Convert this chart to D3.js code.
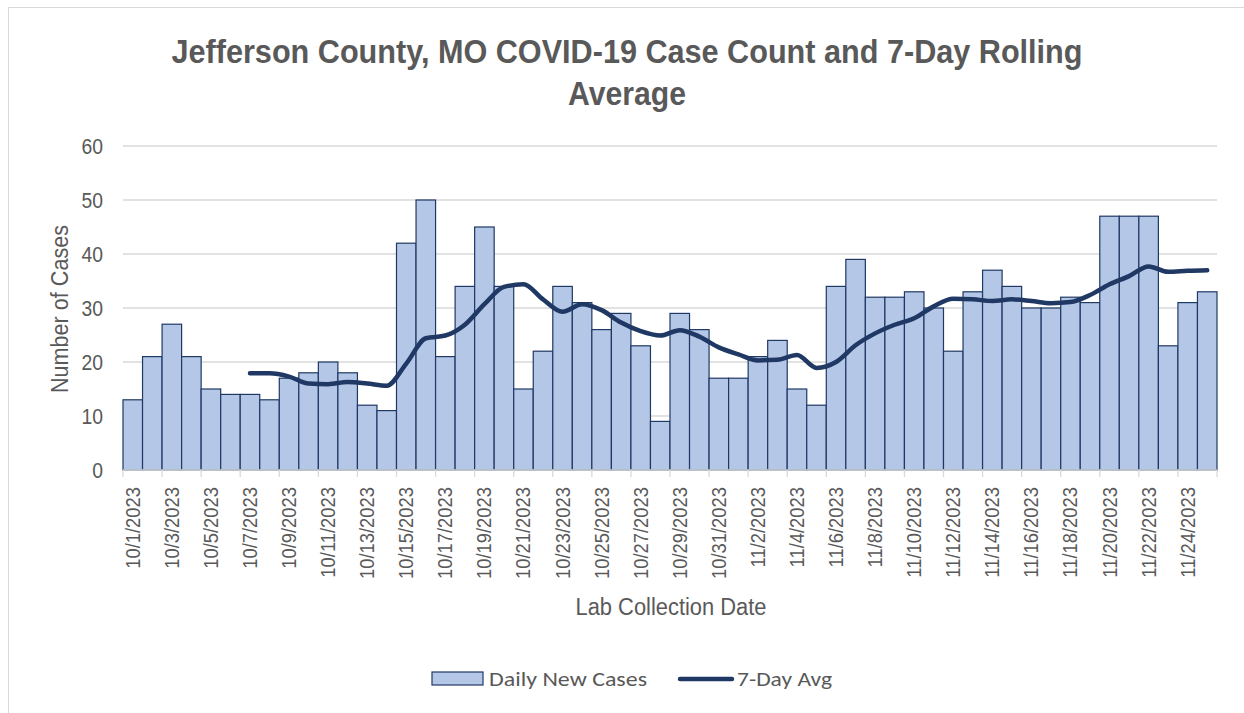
<!DOCTYPE html>
<html lang="en">
<head>
<meta charset="utf-8">
<script src="https://d3js.org/d3.v7.min.js"></script>
<style>
  body { margin: 0; background: #fff; }
  svg text { fill: #595959; font-family: "Liberation Sans", Arial, sans-serif; }
</style>
<title>Jefferson County COVID-19</title>
</head>
<body>
<div id="vis"></div>
<script>
// data
const dates = [
  '10/1/2023','10/2/2023','10/3/2023','10/4/2023','10/5/2023','10/6/2023','10/7/2023',
  '10/8/2023','10/9/2023','10/10/2023','10/11/2023','10/12/2023','10/13/2023','10/14/2023',
  '10/15/2023','10/16/2023','10/17/2023','10/18/2023','10/19/2023','10/20/2023','10/21/2023',
  '10/22/2023','10/23/2023','10/24/2023','10/25/2023','10/26/2023','10/27/2023','10/28/2023',
  '10/29/2023','10/30/2023','10/31/2023','11/1/2023','11/2/2023','11/3/2023','11/4/2023',
  '11/5/2023','11/6/2023','11/7/2023','11/8/2023','11/9/2023','11/10/2023','11/11/2023',
  '11/12/2023','11/13/2023','11/14/2023','11/15/2023','11/16/2023','11/17/2023','11/18/2023',
  '11/19/2023','11/20/2023','11/21/2023','11/22/2023','11/23/2023','11/24/2023','11/25/2023'
];
const dailyCases = [
  13,21,27,21,15,14,14, 13,17,18,20,18,12,11, 42,50,21,34,45,34,15,
  22,34,31,26,29,23,9, 29,26,17,17,21,24,15, 12,34,39,32,32,33,30,
  22,33,37,34,30,30,32, 31,47,47,47,23,31,33
];
// 7-day avg starts on 10/7
const avgValues = [
  null,null,null,null,null,null,17.9,
  17.9,17.3,16.0,15.9,16.3,16.0,15.6, 19.7,24.4,24.9,26.9,30.7,33.9,34.4,
  31.6,29.3,30.7,29.6,27.3,25.7,24.9, 25.9,24.7,22.7,21.4,20.3,20.4,21.3,
  18.9,20.0,23.1,25.3,26.9,28.1,30.3, 31.7,31.6,31.3,31.6,31.3,30.9,31.1,
  32.4,34.4,35.9,37.7,36.7,36.9,37.0
];
const yTicks = [0,10,20,30,40,50,60];

const width = 1244, height = 713;
const margin = { left: 123, right: 25, top: 146, bottom: 243 };

const svg = d3.select('#vis').append('svg')
  .attr('width', width)
  .attr('height', height);

// chart frame (runs off the right and bottom edge)
svg.append('rect')
  .attr('x', 8.5).attr('y', 7.5)
  .attr('width', 1260).attr('height', 740)
  .attr('fill', '#fff')
  .attr('stroke', '#d9d9d9');

const x = d3.scaleBand()
  .domain(dates)
  .range([margin.left, width - margin.right - 2])
  .padding(0);

const y = d3.scaleLinear()
  .domain([0, 60])
  .range([height - margin.bottom, margin.top]);

// gridlines
svg.append('g')
  .selectAll('line')
  .data(yTicks)
  .join('line')
  .attr('x1', x.range()[0])
  .attr('x2', x.range()[1])
  .attr('y1', d => y(d))
  .attr('y2', d => y(d))
  .attr('stroke', '#d9d9d9')
  .attr('stroke-width', 1.3);

// y axis labels (narrow look)
svg.append('g')
  .selectAll('text')
  .data(yTicks)
  .join('text')
  .attr('transform', d => `translate(103,${y(d)}) scale(0.88,1)`)
  .attr('dy', '0.36em')
  .attr('text-anchor', 'end')
  .style('font-size', '22px')
  .text(d => d);

// bars
svg.append('g')
  .selectAll('rect')
  .data(dailyCases)
  .join('rect')
  .attr('x', (d, i) => x(dates[i]))
  .attr('y', d => y(d))
  .attr('width', x.bandwidth())
  .attr('height', d => y(0) - y(d))
  .attr('fill', '#b4c7e7')
  .attr('stroke', '#1f3864')
  .attr('stroke-width', 1.2);

// x axis line and ticks every 2 days
svg.append('line')
  .attr('x1', x.range()[0]).attr('x2', x.range()[1])
  .attr('y1', y(0)).attr('y2', y(0))
  .attr('stroke', '#d9d9d9').attr('stroke-width', 1.3);

const tickDates = dates.filter((d, i) => i % 2 === 0);
svg.append('g')
  .selectAll('line')
  .data(tickDates.concat(['end']))
  .join('line')
  .attr('x1', d => d === 'end' ? x.range()[1] : x(d))
  .attr('x2', d => d === 'end' ? x.range()[1] : x(d))
  .attr('y1', y(0))
  .attr('y2', y(0) + 7)
  .attr('stroke', '#d9d9d9')
  .attr('stroke-width', 1.3);

svg.append('g')
  .selectAll('text')
  .data(tickDates)
  .join('text')
  .attr('transform', d => `translate(${x(d) + x.bandwidth() / 2 + 7},${y(0) + 17}) rotate(-90) scale(0.92,1)`)
  .attr('text-anchor', 'end')
  .style('font-size', '20px')
  .text(d => d);

// 7-day avg line
const line = d3.line()
  .defined(d => d != null)
  .x((d, i) => x(dates[i]) + x.bandwidth() / 2)
  .y(d => y(d))
  .curve(d3.curveMonotoneX);

svg.append('path')
  .datum(avgValues)
  .attr('d', line)
  .attr('fill', 'none')
  .attr('stroke', '#203864')
  .attr('stroke-width', 4.5)
  .attr('stroke-linecap', 'round')
  .attr('stroke-linejoin', 'round');

// title
const title = svg.append('text')
  .attr('text-anchor', 'middle')
  .style('font-size', '33px')
  .style('font-weight', 'bold');
title.append('tspan').attr('x', 627).attr('y', 63)
  .attr('textLength', 911).attr('lengthAdjust', 'spacingAndGlyphs')
  .text('Jefferson County, MO COVID-19 Case Count and 7-Day Rolling');
title.append('tspan').attr('x', 627).attr('y', 105)
  .attr('textLength', 118).attr('lengthAdjust', 'spacingAndGlyphs')
  .text('Average');

// axis titles
svg.append('text')
  .attr('x', 671).attr('y', 615)
  .attr('text-anchor', 'middle')
  .attr('textLength', 191).attr('lengthAdjust', 'spacingAndGlyphs')
  .style('font-size', '23px')
  .text('Lab Collection Date');

svg.append('text')
  .attr('transform', 'translate(68,309) rotate(-90)')
  .attr('text-anchor', 'middle')
  .attr('textLength', 168).attr('lengthAdjust', 'spacingAndGlyphs')
  .style('font-size', '23px')
  .text('Number of Cases');

// legend
const legend = svg.append('g')
  .style('font-size', '20px');
legend.append('rect')
  .attr('x', 432).attr('y', 672)
  .attr('width', 51).attr('height', 13)
  .attr('fill', '#b4c7e7').attr('stroke', '#1f3864').attr('stroke-width', 1.2);
legend.append('text')
  .attr('x', 489).attr('y', 686)
  .attr('textLength', 158).attr('lengthAdjust', 'spacingAndGlyphs')
  .style('font-family', 'Carlito, "Open Sans", sans-serif')
  .text('Daily New Cases');
legend.append('line')
  .attr('x1', 680).attr('x2', 732)
  .attr('y1', 679).attr('y2', 679)
  .attr('stroke', '#203864').attr('stroke-width', 4.5)
  .attr('stroke-linecap', 'round');
legend.append('text')
  .attr('x', 737).attr('y', 686)
  .attr('textLength', 95).attr('lengthAdjust', 'spacingAndGlyphs')
  .style('font-family', 'Carlito, "Open Sans", sans-serif')
  .text('7-Day Avg');
</script>
</body>
</html>
